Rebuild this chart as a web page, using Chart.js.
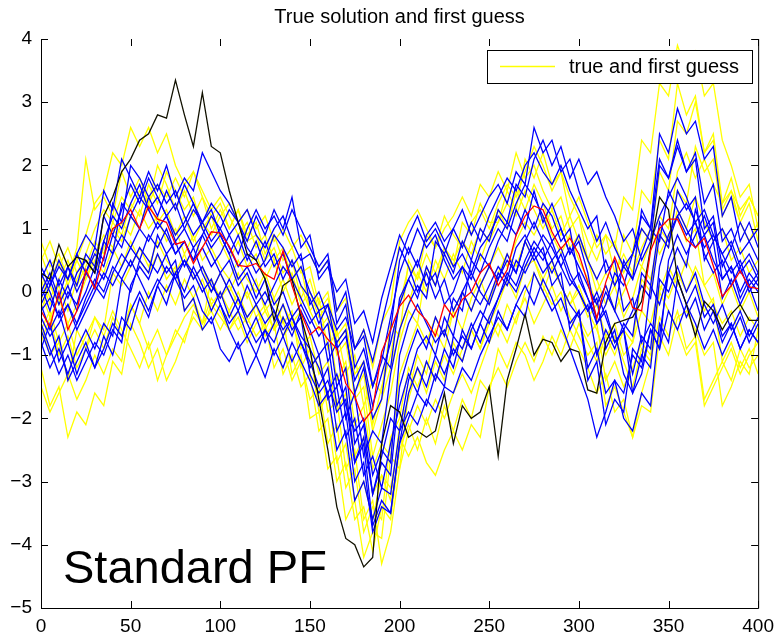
<!DOCTYPE html>
<html>
<head>
<meta charset="utf-8">
<title>Standard PF</title>
<script src="https://cdn.jsdelivr.net/npm/chart.js@4.4.1/dist/chart.umd.min.js"></script>
<style>
  html, body { margin: 0; padding: 0; background: #fff; }
  #wrap { width: 781px; height: 639px; }
</style>
</head>
<body>
<div id="wrap"><canvas id="pf-chart" width="781" height="639"></canvas></div>
<script>
// time axis: one stored value every 5 steps, 0..400
const xStep = 5;
const xTicks = [0, 50, 100, 150, 200, 250, 300, 350, 400];
const yTicks = [-5, -4, -3, -2, -1, 0, 1, 2, 3, 4];

const titleText = 'True solution and first guess';
const legendText = 'true and first guess';
const panelText = 'Standard PF';

// true trajectory (black)
const truth = [
  0.3, 0.2, 0.75, 0.4, 0.55, 0.5, 0.3, 1.2, 1.5, 1.9, 2.1,
  2.4, 2.5, 2.8, 2.75, 3.35, 2.8, 2.3, 3.15, 2.3, 2.2,
  1.6, 1.1, 0.6, 0.5, 0.2, -0.45, 0.1, 0.2, -0.4, -0.9,
  -1.7, -2.5, -3.4, -3.9, -4.0, -4.35, -4.2, -2.4, -1.8, -1.9,
  -2.3, -2.2, -2.3, -2.2, -1.6, -2.4, -1.8, -2.0, -1.9, -1.5,
  -2.6, -1.4, -0.9, -0.35, -1.0, -0.75, -0.8, -1.1, -0.9, -0.95,
  -1.55, -1.6, -0.8, -0.5, -0.45, -0.4, -0.15, 0.7, 1.5, 1.3,
  0.2, -0.2, -0.7, -0.15, -0.3, -0.6, -0.35, -0.2, -0.45, -0.45
];

// ensemble mean (red)
const ensMean = [
  -0.3, -0.55, 0.0, -0.6, -0.3, 0.35, 0.05, 0.55, 1.0, 1.1, 1.3,
  1.0, 1.35, 1.15, 1.1, 0.75, 0.8, 0.45, 0.7, 0.95, 0.93,
  0.72, 0.42, 0.4, 0.45, 0.28, 0.2, 0.65, 0.1, -0.33, -0.68,
  -0.55, -0.75, -0.9, -1.45, -1.65, -2.05, -1.86, -0.95, -0.6, -0.23,
  -0.05, -0.3, -0.45, -0.7, -0.2, -0.4, -0.12, 0.0, 0.3, 0.45,
  0.1, 0.35, 0.9, 1.2, 1.36, 1.3, 0.95, 0.68, 0.85, 0.6,
  0.15, -0.42, 0.15, 0.55, 0.2, -0.25, -0.3, 0.65, 1.0, 1.15,
  1.15, 0.83, 0.7, 0.85, 0.41, -0.07, 0.1, 0.33, 0.08, 0.05
];

// first guess members (yellow)
const guess1 = [
  0.6, 0.2, 0.5, 0.1, 0.5, 0.9, 1.4, 1.6, 2.2, 2.0, 2.6,
  2.3, 2.6, 2.2, 2.5, 2.0, 1.7, 1.9, 1.5, 1.2, 1.4,
  1.0, 1.3, 0.8, 0.9, 0.5, 0.7, 0.3, 0.5, -0.1, 0.2,
  -0.3, -0.1, -0.7, -0.5, -1.3, -1.1, -2.1, -1.5, -1.0, -0.2,
  0.4, 0.2, 0.9, 0.7, 1.2, 0.9, 0.7, 1.1, 1.3, 1.0,
  1.4, 1.7, 1.5, 1.9, 2.3, 2.0, 1.6, 1.9, 1.5, 1.2,
  0.8, 0.5, 0.9, 0.7, 1.5, 1.3, 2.4, 2.2, 3.3, 3.1,
  3.9, 3.5, 3.8, 3.1, 3.3, 2.4, 2.0, 1.5, 1.7, 1.0
];
const guess2 = [
  -1.2, -1.8, -1.5, -2.3, -1.9, -2.1, -1.6, -1.8, -1.1, -1.3, -0.5,
  -0.8, -1.2, -0.9, -1.4, -1.1, -0.7, -0.4, -0.6, -0.2, -0.4,
  -0.6, -0.3, -0.5, -0.2, -0.7, -0.5, -1.3, -1.0, -1.5, -1.3,
  -2.2, -2.0, -3.0, -2.7, -3.6, -3.4, -4.1, -3.4, -3.6, -2.5,
  -2.1, -2.5, -2.0, -2.4, -1.8, -2.2, -1.7, -2.0, -1.4, -1.6,
  -0.9, -1.2, -0.8, -1.0, -1.4, -1.1, -0.7, -1.0, -0.6, -0.9,
  -1.2, -1.6, -1.3, -1.9, -1.7, -2.3, -1.6, -1.1, -0.4, -0.7,
  -0.3, -0.9, -0.7, -1.7, -1.4, -1.1, -1.4, -0.9, -1.2, -1.0
];
const guess3 = [
  0.8, 0.4, 0.6, 0.2, 0.7, 2.1, 1.3, 1.5, 1.2, 1.9, 1.5,
  1.8, 1.4, 2.0, 1.7, 1.3, 1.6, 1.2, 1.5, 1.0, 1.3,
  1.0, 1.3, 0.9, 1.1, 0.6, 0.9, 0.5, 0.7, 0.3, 0.4,
  -0.2, 0.0, -0.8, -0.6, -1.7, -1.5, -2.6, -2.1, -1.6, -0.8,
  -0.3, -0.5, 0.4, 0.1, 0.7, 0.4, 1.1, 0.9, 1.4, 1.1,
  1.1, 1.6, 1.3, 2.1, 1.8, 2.2, 1.7, 1.9, 1.2, 1.5,
  1.1, 0.7, 0.9, 0.3, 0.6, 0.3, 1.0, 0.8, 1.9, 1.6,
  2.7, 2.5, 3.0, 2.2, 2.4, 1.3, 1.6, 1.1, 1.4, 0.8
];
const guess4 = [
  -0.5, -1.0, -0.8, -1.4, -0.6, -0.9, -0.4, -0.7, -0.3, -0.6, -0.9,
  -1.2, -0.8, -1.4, -1.0, -0.6, -0.8, -0.3, -0.5, 0.2, -0.1,
  0.1, -0.2, 0.0, -0.4, -0.2, -0.6, -0.4, -1.3, -1.0, -2.0,
  -1.9, -2.8, -2.6, -3.6, -3.3, -4.2, -3.8, -3.9, -2.6, -2.8,
  -1.6, -1.0, -1.3, -0.6, -0.9, -0.3, -0.6, -0.1, 0.2, -0.2,
  0.3, 0.6, 0.4, 0.8, 0.5, 0.2, 0.5, 0.1, -0.2, 0.1,
  -0.3, -0.6, -1.0, -0.7, -1.1, -1.5, -0.9, -1.1, 0.0, 0.4,
  0.1, 0.5, 0.2, -0.3, -0.1, -1.1, -0.8, -1.2, -0.9, -1.3
];
const guess5 = [
  0.2, -0.2, 0.1, -0.3, 0.2, 0.5, 0.3, 0.7, 1.0, 0.8, 1.2,
  1.0, 1.4, 1.1, 1.3, 0.9, 1.2, 0.8, 1.1, 0.9, 1.2,
  1.4, 1.1, 1.3, 1.0, 1.2, 0.8, 1.0, 0.7, 0.9, 0.6,
  0.3, 0.5, -0.3, -0.1, -0.9, -0.6, -1.2, -0.5, -0.2, 0.8,
  1.1, 1.3, 1.0, 0.7, 1.0, 1.2, 1.5, 1.2, 1.7, 1.5,
  1.9, 1.6, 2.2, 1.8, 2.0, 1.6, 1.3, 1.5, 1.0, 1.2,
  0.5, 0.0, 0.3, 0.1, 0.9, 0.6, 1.6, 1.4, 2.4, 2.1,
  3.3, 2.8, 3.1, 2.2, 2.5, 1.4, 1.8, 1.2, 1.5, 1.2
];
const guess6 = [
  0.0, -0.4, -0.1, -0.5, -0.2, 0.2, 0.5, 0.3, 0.7, 0.4, 0.8,
  0.5, 0.3, 0.6, 0.2, 0.4, -0.3, -0.1, -0.5, -0.3, -0.6,
  -0.3, -0.6, -0.4, -0.7, -0.5, -1.2, -0.9, -1.4, -1.1, -1.7,
  -1.5, -2.4, -2.1, -3.1, -2.8, -3.8, -3.4, -3.6, -2.3, -2.0,
  -1.2, -1.5, -1.1, -1.4, -1.0, -1.3, -0.9, -0.6, -0.9, -0.5,
  -0.2, 0.2, -0.1, 0.4, 0.5, 0.1, -0.2, 0.0, -0.4, -0.7,
  -1.0, -0.8, -1.8, -1.5, -1.9, -2.3, -1.8, -1.9, -0.7, -1.0,
  -0.4, -0.3, -0.6, -1.0, -0.8, -1.8, -1.5, -1.1, -1.3, -0.6
];
const guess7 = [
  -0.3, 0.1, -0.2, 0.2, 0.5, 0.2, 0.6, 0.9, 0.7, 1.1, 0.9,
  1.3, 1.0, 1.2, 0.8, 1.0, 0.6, 0.9, 0.5, 0.7, 0.4,
  0.2, 0.5, 0.2, 0.0, 0.3, -0.1, 0.2, -0.2, 0.1, -0.3,
  -0.6, -0.4, -1.4, -1.1, -2.1, -1.8, -2.8, -2.4, -2.6, -1.3,
  -0.9, -0.5, -0.8, -0.4, -0.7, -0.3, 0.0, -0.3, 0.1, 0.4,
  0.7, 0.4, 0.8, 1.1, 0.9, 1.2, 0.9, 0.6, 0.9, 0.5,
  0.2, -0.2, 0.1, -0.3, 0.0, 0.3, 0.7, 1.0, 0.6, 0.9,
  1.2, 0.8, 1.0, 0.1, 0.3, -0.2, 0.1, -0.3, 0.0, -0.4
];
const guess8 = [
  -0.6, -0.3, -0.8, -0.5, -1.0, -0.7, -0.4, -0.6, 0.3, 0.1, 0.4,
  0.7, 0.4, 0.8, 0.5, 0.3, 0.6, 0.2, 0.4, 0.0, 0.3,
  0.0, 0.3, -0.1, 0.2, -0.3, -0.1, -0.5, -0.3, -1.2, -0.9,
  -1.9, -1.6, -2.7, -2.4, -3.3, -3.0, -3.6, -2.9, -3.1, -2.3,
  -2.6, -2.3, -2.7, -2.9, -2.5, -2.2, -2.5, -2.1, -2.3, -1.5,
  -1.2, -1.5, -1.1, -0.8, -1.1, -0.7, -1.0, -0.6, -0.9, -0.5,
  -0.8, -1.1, -0.7, -1.0, -0.6, -0.8, 0.2, 0.0, 1.0, 0.8,
  1.6, 1.4, 2.3, 1.9, 2.1, 1.2, 1.5, 1.1, 0.8, 1.1
];
const guess9 = [
  0.5, 0.8, 0.4, 0.7, 0.3, 0.6, 1.0, 1.3, 1.1, 1.5, 1.3,
  1.6, 1.4, 1.7, 1.5, 1.8, 1.5, 1.9, 1.6, 1.3, 1.5,
  1.2, 0.9, 1.1, 0.7, 0.9, 0.5, 0.7, 0.2, 0.4, -0.3,
  -0.1, -0.9, -0.6, -1.3, -1.0, -1.8, -1.4, -1.6, -0.5, -0.7,
  0.5, 0.2, 0.6, 0.3, 0.7, 0.5, 0.8, 0.6, 1.0, 0.8,
  1.1, 1.4, 1.2, 1.6, 1.3, 1.0, 1.3, 0.9, 1.2, 0.8,
  0.5, 0.9, 0.6, 0.8, 0.3, 0.6, 0.4, 0.8, 1.2, 1.0,
  1.9, 2.2, 1.8, 2.1, 1.7, 1.4, 1.6, 1.3, 1.5, 1.2
];
const guess10 = [
  -1.5, -1.9, -1.6, -1.3, -1.7, -1.4, -1.0, -1.3, -0.9, -1.1, -0.2,
  -0.5, -0.9, -0.6, -1.0, -0.7, -0.4, -0.2, -0.5, -0.1, -0.3,
  -0.6, -0.4, -0.8, -0.5, -0.3, -0.6, -0.2, -0.5, -0.3, -1.2,
  -1.0, -1.9, -1.7, -2.8, -2.5, -3.6, -3.3, -4.3, -3.8, -2.8,
  -2.2, -1.8, -2.1, -1.7, -2.0, -1.6, -1.3, -1.6, -1.2, -0.8,
  -0.5, -0.8, -0.4, -0.1, -0.5, -0.2, 0.1, -0.3, 0.0, -0.4,
  -0.7, -0.5, -1.4, -1.1, -1.5, -1.2, -0.8, -1.0, 0.0, -0.3,
  -0.6, -1.0, -0.8, -1.8, -1.5, -1.2, -0.9, -1.3, -1.0, -0.8
];
const guess11 = [
  0.3, -0.1, 0.2, 0.5, 0.1, 0.4, 0.8, 0.6, 1.1, 0.9, 1.4,
  1.2, 1.7, 1.4, 1.9, 1.6, 1.3, 1.5, 1.0, 1.2, 0.8,
  0.5, 0.8, 0.4, 0.6, 0.2, 0.5, 0.0, 0.3, -0.2, 0.0,
  -0.4, -0.2, -1.0, -0.8, -1.6, -1.3, -2.2, -1.7, -1.2, -0.6,
  -0.2, 0.3, 0.0, 0.5, 0.2, 0.6, 0.3, 0.8, 0.5, 0.9,
  1.3, 1.0, 1.6, 1.3, 1.7, 1.4, 1.0, 1.2, 0.7, 0.9,
  0.5, 0.2, -0.2, 0.1, -0.4, -0.1, 0.4, 0.2, 0.9, 0.7,
  1.3, 1.0, 1.5, 1.1, 0.8, 1.0, 0.5, 0.7, 0.3, 0.5
];
const guess12 = [
  -0.8, -0.4, -1.0, -0.7, -1.2, -0.9, -0.6, -0.9, -0.4, -0.7, -0.2,
  -0.5, 0.0, -0.3, 0.1, -0.2, 0.2, -0.1, 0.2, -0.2, 0.0,
  -0.3, 0.0, -0.4, -0.2, -0.6, -0.3, -0.7, -0.5, -0.9, -0.7,
  -1.3, -1.1, -1.9, -1.6, -2.6, -2.3, -3.2, -2.9, -3.3, -2.1,
  -1.7, -1.2, -1.6, -1.1, -1.4, -0.8, -1.1, -0.6, -0.9, -0.4,
  -0.7, -0.2, -0.5, 0.0, 0.3, 0.0, 0.4, 0.1, -0.2, 0.0,
  -0.4, -0.2, -0.7, -0.5, -1.0, -0.8, -0.3, -0.5, 0.1, -0.1,
  0.3, 0.0, 0.4, 0.1, -0.2, -0.5, -0.3, -0.7, -0.4, -0.6
];

// particle filter members (blue)
const pf1 = [
  -0.2, 0.1, 0.4, 0.2, 0.6, 0.9, 0.7, 1.6, 1.3, 2.1, 1.8,
  1.5, 1.9, 1.6, 2.0, 1.5, 1.8, 1.6, 2.2, 1.9, 1.6,
  1.4, 1.1, 1.3, 0.9, 0.7, 1.0, 1.2, 0.8, 0.5, 0.6,
  0.3, 0.5, -0.5, -0.2, -1.2, -0.9, -1.5, -1.1, -0.4, 0.3,
  0.7, 0.4, 0.9, 1.1, 0.8, 1.0, 1.3, 0.9, 1.2, 1.5,
  1.7, 1.4, 1.9, 1.7, 2.6, 2.2, 2.4, 1.9, 2.1, 1.6,
  1.2, 0.8, 1.1, 0.7, 0.4, 0.6, 1.0, 0.8, 2.0, 1.8,
  2.4, 1.9, 2.1, 1.0, 1.2, 0.4, 0.7, 0.3, 0.5, 0.2
];
const pf2 = [
  0.1, -0.3, 0.2, -0.1, 0.3, 0.5, 0.3, 0.8, 1.2, 1.0, 1.4,
  1.7, 1.3, 1.5, 1.2, 0.9, 1.1, 1.4, 1.0, 0.7, 0.9,
  0.6, 0.2, 0.4, 0.1, -0.2, 0.1, 0.4, 0.2, -0.1, -0.4,
  -0.7, -0.5, -1.5, -1.2, -2.4, -2.1, -3.2, -2.7, -2.9, -1.5,
  -1.0, -0.6, -0.9, -0.4, -0.7, -0.1, -0.3, 0.5, 0.3, 0.7,
  1.0, 0.8, 1.3, 1.0, 1.6, 1.1, 1.4, 1.0, 0.6, 0.8,
  0.3, -0.5, -0.2, 0.3, 0.1, 0.6, 1.2, 1.0, 2.5, 2.2,
  2.9, 2.5, 2.7, 2.1, 2.3, 1.2, 1.5, 0.8, 1.1, 0.7
];
const pf3 = [
  -0.5, -0.9, -1.3, -1.0, -1.4, -1.1, -0.8, -1.0, -0.6, -0.8, 0.1,
  0.4, 0.2, 0.6, 0.3, 0.5, -0.3, -0.1, -0.6, -0.4, -0.9,
  -1.1, -0.8, -1.3, -1.0, -1.35, -0.9, -1.2, -0.8, -1.1, -1.4,
  -1.8, -1.6, -2.5, -2.2, -3.3, -3.0, -3.6, -3.1, -3.2, -2.2,
  -1.9, -2.1, -1.7, -1.9, -1.5, -1.6, -1.2, -1.4, -1.0, -0.7,
  -0.4, -0.6, -0.2, -0.4, 0.3, 0.0, -0.3, -0.1, -0.5, -0.3,
  -1.2, -0.9, -1.6, -1.4, -2.0, -2.2, -1.6, -1.8, -0.5, -0.8,
  0.2, -0.2, 0.1, -0.4, -0.2, -0.7, -0.5, -0.9, -0.6, -0.8
];
const pf4 = [
  -0.3, -0.1, -0.4, 0.0, -0.2, 0.3, 0.1, 0.8, 0.6, 1.4, 1.2,
  1.5, 1.3, 1.0, 1.2, 0.8, 1.0, 1.3, 1.1, 1.4, 1.2,
  0.9, 1.1, 0.7, 0.5, 0.8, 0.4, 0.6, 0.2, 0.4, 0.0,
  -0.3, -0.2, -0.6, -0.4, -0.9, -0.7, -1.5, -1.0, -1.2, -0.1,
  0.2, 0.5, 0.1, 0.3, -0.2, 0.0, 0.4, 0.2, 0.6, 0.4,
  0.8, 1.1, 0.9, 1.3, 1.0, 1.4, 1.2, 0.8, 1.0, 0.2,
  -0.1, -0.4, 0.0, -0.3, 0.5, 0.2, 0.6, 1.0, 0.8, 1.6,
  1.3, 1.0, 0.7, 0.9, 0.5, 0.2, 0.4, 0.0, 0.3, 0.1
];
const pf5 = [
  0.3, 0.0, -0.4, -0.2, -0.6, -0.3, 0.0, 0.3, 0.1, 0.4, 0.7,
  0.5, 0.9, 0.7, 1.0, 0.6, 0.8, 0.5, 0.9, 1.2, 1.0,
  1.3, 1.1, 0.8, 1.2, 0.9, 1.3, 1.0, 1.5, 0.7, 0.9,
  0.2, 0.4, 0.0, 0.2, -0.5, -0.3, -0.8, -0.1, 0.4, 0.9,
  0.6, 1.0, 0.7, 0.9, 0.5, 0.2, 0.4, 0.0, -0.2, 0.1,
  0.4, 0.2, 0.7, 0.9, 0.6, 0.3, 0.5, 0.1, -0.2, -0.4,
  -0.2, -1.0, -0.6, -0.9, -0.5, -0.7, 0.3, 0.1, 1.1, 0.8,
  1.2, 1.4, 1.1, 0.7, 0.9, 0.6, 0.3, 0.5, 0.1, 0.3
];
const pf6 = [
  -0.6, -1.0, -0.7, -1.4, -1.1, -0.8, -1.2, -0.9, -0.5, -0.7, -0.3,
  0.0, -0.3, 0.1, 0.4, 0.2, 0.5, 0.3, 0.0, 0.2, -0.2,
  -0.5, -0.3, -0.7, -0.4, -0.8, -0.5, -0.2, -0.6, -0.4, -1.3,
  -1.6, -1.4, -1.9, -1.7, -2.7, -2.4, -3.7, -3.3, -3.5, -2.4,
  -2.0, -1.6, -1.8, -1.3, -1.5, -0.7, -0.9, -0.5, -0.8, -0.4,
  -0.1, 0.3, 0.1, 0.5, 0.8, 0.6, 0.3, 0.6, 0.2, 0.0,
  -0.3, -0.1, -0.9, -0.6, -1.3, -1.6, -1.0, -1.2, 0.2, 0.0,
  0.4, 0.0, 0.3, -0.2, -0.5, -0.2, -0.6, -0.3, -0.7, -0.4
];
const pf7 = [
  0.0, 0.3, -0.1, 0.4, 0.1, 0.6, 0.4, 1.2, 0.9, 1.3, 1.7,
  1.4, 1.8, 1.5, 1.2, 1.4, 1.0, 0.7, 0.9, 0.6, 0.3,
  0.5, 0.1, 0.3, -0.1, 0.2, -0.2, 0.0, -0.4, -0.2, -0.5,
  -0.3, -1.1, -0.8, -2.0, -1.6, -2.6, -2.2, -2.4, -1.3, -0.6,
  -0.2, 0.1, -0.1, 0.8, 0.6, 1.0, 0.7, 1.1, 0.8, 1.2,
  1.5, 1.8, 1.6, 2.0, 2.2, 1.9, 1.7, 2.0, 1.6, 1.3,
  1.0, 1.2, 0.3, 0.5, -0.3, -0.1, -0.8, -0.5, -0.7, 0.3,
  0.7, 0.4, 1.3, 0.9, 1.1, 0.2, 0.4, -0.1, 0.2, 0.0
];
const pf8 = [
  -0.2, -0.6, -0.3, -0.8, -0.5, -0.2, 0.1, -0.1, 0.3, 0.6, 0.4,
  0.7, 0.5, 0.3, 0.6, 0.2, -0.1, 0.1, -0.3, -0.5, -0.2,
  -0.6, -0.9, -0.7, -1.0, -0.6, -0.8, -0.4, -0.7, -0.3, -0.6,
  -1.0, -0.8, -1.8, -1.5, -2.7, -2.3, -3.2, -2.6, -2.0, -2.2,
  -1.4, -0.9, -0.7, -1.0, -0.4, -0.7, 0.0, -0.3, 0.1, 0.4,
  0.2, 0.6, 0.3, 0.8, 0.5, 0.7, 0.1, 0.3, -0.6, -0.3,
  -1.4, -1.1, -2.1, -1.7, -1.9, -0.9, -1.1, 0.1, -0.2, 0.3,
  0.0, -0.4, -0.1, -0.6, -0.3, -0.8, -0.5, -0.9, -0.6, -0.8
];
const pf9 = [
  0.4, 0.1, 0.5, 0.2, 0.6, 0.3, 0.7, 0.5, 1.4, 1.1, 2.0,
  1.8, 1.5, 1.7, 1.4, 1.6, 1.2, 0.9, 1.1, 0.8, 1.0,
  0.7, 0.4, 0.6, 0.3, 0.5, 0.9, 0.7, 0.4, 0.6, -0.2,
  0.0, -0.4, -0.8, -0.6, -1.6, -1.2, -2.0, -1.7, -0.6, 0.5,
  0.9, 1.2, 0.8, 1.0, 0.7, 0.4, 0.6, 0.3, 0.7, 0.9,
  1.2, 1.0, 1.4, 1.7, 1.5, 1.2, 0.8, 1.0, 0.6, 0.9,
  0.5, 0.2, 0.5, 0.1, 0.4, 0.2, 1.3, 1.0, 2.1, 1.8,
  2.3, 1.9, 2.2, 1.4, 1.7, 0.8, 1.0, 0.6, 0.8, 0.5
];
const pf10 = [
  -0.8, -1.2, -0.9, -1.3, -0.9, -0.6, -0.9, -0.5, -0.7, 0.2, 0.0,
  0.5, 0.3, 0.9, 0.6, 0.8, 0.4, 0.7, 0.3, 0.0, 0.3,
  0.0, -0.3, 0.1, -0.2, -0.5, -0.3, -0.7, -0.4, -0.8, -1.1,
  -1.5, -1.2, -2.2, -1.9, -3.0, -2.7, -3.8, -3.4, -3.5, -2.4,
  -1.6, -1.2, -1.5, -1.0, -1.3, -0.9, -1.1, -0.6, -0.3, -0.5,
  -0.1, 0.2, 0.0, 0.4, 0.7, 0.5, 0.8, 0.4, 0.1, 0.3,
  -0.1, -0.5, -0.3, -0.8, -0.6, -1.3, -0.7, -0.9, 0.4, 0.9,
  1.2, 0.9, 1.1, 0.6, 0.3, 0.5, 0.1, 0.4, 0.0, 0.2
];
const pf11 = [
  -0.1, 0.2, -0.2, 0.1, -0.3, 0.0, 0.4, 0.2, 0.6, 0.9, 0.7,
  1.0, 0.8, 1.1, 0.9, 0.6, 0.8, 0.5, 0.7, 0.4, 0.6,
  0.9, 0.6, 1.0, 1.3, 1.0, 1.2, 0.9, 1.3, 1.0, 0.7,
  0.4, 0.6, -0.3, 0.0, -0.9, -0.6, -1.1, -0.5, 0.1, 0.7,
  0.4, 0.0, 0.3, -0.1, 0.2, -0.3, 0.0, 0.3, 0.0, -0.2,
  0.2, 0.5, 0.3, 0.8, 1.1, 0.8, 0.5, 0.7, 0.3, 0.0,
  -0.3, 0.0, -0.4, -0.8, -0.6, -1.6, -1.3, -0.6, -0.9, 0.5,
  0.9, 0.6, 0.9, 1.2, 0.8, 1.0, 0.7, 1.1, 0.8, 1.0
];
const pf12 = [
  -0.4, -0.7, -0.5, -0.2, -0.5, -0.1, 0.2, 0.0, 0.4, 0.2, 0.5,
  0.2, -0.1, 0.2, 0.0, 0.3, 0.5, 0.2, 0.4, 0.1, -0.1,
  0.2, -0.1, -0.4, -0.2, 0.0, -0.3, -0.6, -0.4, -0.7, -0.9,
  -1.2, -1.6, -1.3, -1.8, -2.2, -2.0, -2.9, -2.5, -2.7, -1.0,
  -0.5, -0.2, -0.5, -0.8, -0.6, -1.0, -0.7, -0.9, -0.5, -0.1,
  0.3, 0.1, 0.5, 0.3, 0.6, 0.9, 0.7, 0.4, 0.7, 0.4,
  0.1, -0.2, 0.1, -0.3, -0.6, -0.3, 0.1, -0.1, 0.9, 0.7,
  1.6, 1.3, 1.5, 0.5, 0.8, -0.1, 0.2, -0.2, 0.1, -0.3
];
const pf13 = [
  -0.9, -0.5, -1.1, -0.8, -1.3, -0.9, -1.2, -0.7, -1.0, -0.4, -0.6,
  -0.1, -0.4, 0.1, -0.2, 0.3, 0.0, 0.4, 0.1, -0.3, 0.0,
  -0.4, -0.1, -0.5, -0.8, -0.6, -1.0, -0.7, -1.1, -0.8, -1.2,
  -1.0, -1.7, -1.5, -2.3, -2.0, -2.9, -2.6, -3.1, -2.4, -1.8,
  -1.3, -1.6, -1.1, -1.4, -0.9, -1.2, -0.6, -0.9, -0.5, -0.8,
  -0.3, -0.6, -0.2, 0.1, -0.2, 0.2, -0.1, -0.5, -0.9, -1.3,
  -1.7, -2.3, -1.9, -1.4, -1.6, -1.0, -1.2, -0.6, -0.9, -0.3,
  -0.6, -0.2, -0.5, -0.9, -0.6, -1.0, -0.7, -0.4, -0.8, -0.5
];
const pf14 = [
  0.2, 0.5, 0.1, 0.4, 0.0, 0.3, 0.6, 0.4, 0.9, 0.7, 1.2,
  1.0, 1.5, 1.2, 1.6, 1.3, 1.7, 1.4, 1.1, 1.3, 0.9,
  0.6, 0.9, 0.5, 0.8, 0.4, 0.6, 0.2, 0.5, 0.1, -0.1,
  -0.5, -0.2, -0.9, -0.7, -1.4, -1.1, -1.8, -1.3, -0.8, -0.2,
  0.2, -0.1, 0.4, 0.1, 0.6, 0.3, 0.8, 0.5, 1.0, 0.8,
  1.3, 1.1, 1.7, 1.5, 2.1, 2.4, 2.0, 2.3, 1.8, 2.1,
  1.7, 1.9, 1.5, 1.2, 0.8, 1.0, 0.5, 0.8, 1.2, 1.5,
  1.8, 1.5, 1.1, 1.3, 0.9, 0.6, 0.8, 0.4, 0.6, 0.3
];

const firstGuess = [guess1, guess2, guess3, guess4, guess5, guess6,
                    guess7, guess8, guess9, guess10, guess11, guess12];
const pfMembers = [pf1, pf2, pf3, pf4, pf5, pf6, pf7,
                   pf8, pf9, pf10, pf11, pf12, pf13, pf14];

const fontFamily = "'Liberation Sans', Arial, Helvetica, sans-serif";

function toPoints(values) {
    return values.map((v, i) => ({ x: i * xStep, y: v }));
}

function lineSet(values, color, order) {
    return {
        data: toPoints(values),
        borderColor: color,
        borderWidth: 1.3,
        pointRadius: 0,
        fill: false,
        tension: 0,
        order: order
    };
}

const datasets = [];
firstGuess.forEach(s => datasets.push(lineSet(s, '#ffff00', 3)));
pfMembers.forEach(s => datasets.push(lineSet(s, '#0000ff', 2)));
datasets.push(lineSet(truth, '#111100', 1));
datasets.push(lineSet(ensMean, '#ff0000', 0));

// frame, inward tick marks, title, legend box and panel label
const decorations = {
    id: 'decorations',
    afterDatasetsDraw(chart) {
        const { ctx, chartArea: a, scales } = chart;
        const tick = 7;
        ctx.save();
        ctx.strokeStyle = '#000';
        ctx.lineWidth = 1;
        ctx.beginPath();
        ctx.moveTo(a.left + 0.5, a.top);
        ctx.lineTo(a.left + 0.5, a.bottom + 0.5);
        ctx.lineTo(a.right + 0.5, a.bottom + 0.5);
        ctx.lineTo(a.right + 0.5, a.top);
        xTicks.forEach(v => {
            const px = Math.round(scales.x.getPixelForValue(v)) + 0.5;
            ctx.moveTo(px, a.bottom);
            ctx.lineTo(px, a.bottom - tick);
            ctx.moveTo(px, a.top);
            ctx.lineTo(px, a.top + tick);
        });
        yTicks.forEach(v => {
            const py = Math.round(scales.y.getPixelForValue(v)) + 0.5;
            ctx.moveTo(a.left, py);
            ctx.lineTo(a.left + tick, py);
            ctx.moveTo(a.right, py);
            ctx.lineTo(a.right - tick, py);
        });
        ctx.stroke();

        // legend
        const lx = 487, ly = 50, lw = 265, lh = 33;
        ctx.fillStyle = '#fff';
        ctx.fillRect(lx, ly, lw, lh);
        ctx.strokeRect(lx + 0.5, ly + 0.5, lw, lh);
        ctx.strokeStyle = '#ffff00';
        ctx.lineWidth = 1.3;
        ctx.beginPath();
        ctx.moveTo(lx + 13, ly + 16.5);
        ctx.lineTo(lx + 68, ly + 16.5);
        ctx.stroke();
        ctx.fillStyle = '#000';
        ctx.font = '20px ' + fontFamily;
        ctx.textBaseline = 'alphabetic';
        ctx.textAlign = 'left';
        ctx.fillText(legendText, lx + 82, ly + 23);

        // title
        ctx.textAlign = 'center';
        ctx.font = '20px ' + fontFamily;
        ctx.fillText(titleText, (a.left + a.right) / 2, 23);

        // panel label
        ctx.textAlign = 'left';
        ctx.font = '47px ' + fontFamily;
        ctx.fillText(panelText, 63, 583);
        ctx.restore();
    }
};

const tickFont = { family: fontFamily, size: 19 };

new Chart(document.getElementById('pf-chart'), {
    type: 'line',
    data: { datasets: datasets },
    options: {
        responsive: false,
        animation: false,
        events: [],
        layout: { padding: { top: 39, right: 19, bottom: 0, left: 0 } },
        plugins: {
            legend: { display: false },
            title: { display: false },
            tooltip: { enabled: false }
        },
        scales: {
            x: {
                type: 'linear',
                min: 0,
                max: 400,
                afterBuildTicks: axis => { axis.ticks = xTicks.map(v => ({ value: v })); },
                afterFit: axis => { axis.height = 31; },
                ticks: { font: tickFont, color: '#000', padding: 7, maxRotation: 0, autoSkip: false },
                grid: { display: false, drawTicks: false },
                border: { display: false }
            },
            y: {
                min: -5,
                max: 4,
                afterBuildTicks: axis => { axis.ticks = yTicks.map(v => ({ value: v })); },
                afterFit: axis => { axis.width = 41; },
                ticks: {
                    font: tickFont,
                    color: '#000',
                    padding: 9,
                    autoSkip: false,
                    callback: v => (v < 0 ? '\u2212' + Math.abs(v) : String(v))
                },
                grid: { display: false, drawTicks: false },
                border: { display: false }
            }
        }
    },
    plugins: [decorations]
});
</script>
</body>
</html>
